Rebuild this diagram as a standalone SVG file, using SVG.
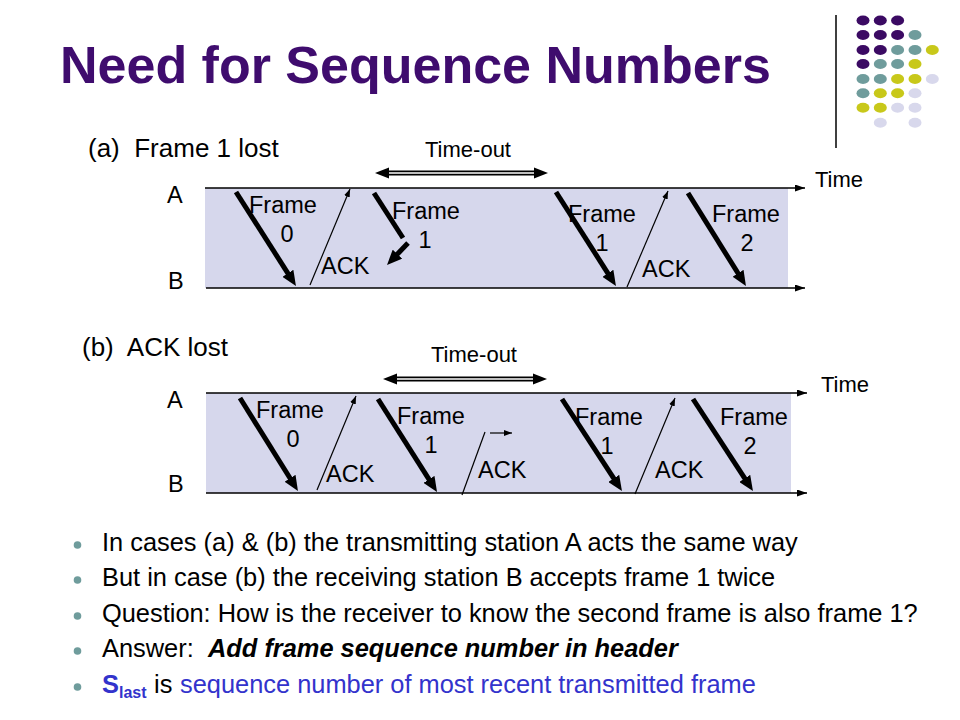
<svg xmlns="http://www.w3.org/2000/svg" width="960" height="720" viewBox="0 0 960 720">
<defs>
<style>
text{font-family:"Liberation Sans",Arial,sans-serif;fill:#000}
.title{font-size:52px;font-weight:bold;fill:#3f0c6e}
.cap{font-size:26px}
.lbl{font-size:23.5px}
.to{font-size:22px}
.bul{font-size:25.4px}
.blue{fill:#3333cc}
.thick{stroke:#000;stroke-width:5;fill:none;marker-end:url(#hThick)}
.thin{stroke:#000;stroke-width:1.2;fill:none;marker-end:url(#hThin)}
.axis{stroke:#000;stroke-width:1.5;fill:none;marker-end:url(#hAxis)}
.band{fill:#d6d7ec}
.p{fill:#3b0a63}.t{fill:#6f9c9c}.y{fill:#c8c81a}.l{fill:#d8d8ec}
</style>
<marker id="hThick" markerUnits="userSpaceOnUse" markerWidth="17" markerHeight="13" refX="3" refY="6.5" orient="auto"><path d="M0,0 L15,6.5 L0,13 z" fill="#000"/></marker>
<marker id="hThin" markerUnits="userSpaceOnUse" markerWidth="9" markerHeight="7" refX="8" refY="3" orient="auto"><path d="M0,0 L8,3 L0,6 z" fill="#000"/></marker>
<marker id="hAxis" markerUnits="userSpaceOnUse" markerWidth="11" markerHeight="8" refX="10" refY="3.5" orient="auto"><path d="M0,0 L10,3.5 L0,7 z" fill="#000"/></marker>
</defs>
<rect width="960" height="720" fill="#fff"/>

<g id="decor">
<line x1="836" y1="15" x2="836" y2="148" stroke="#000" stroke-width="1.5"/>
<ellipse class="p" cx="863" cy="20.5" rx="6.5" ry="5"/><ellipse class="p" cx="880.3" cy="20.5" rx="6.5" ry="5"/><ellipse class="p" cx="897.6" cy="20.5" rx="6.5" ry="5"/>
<ellipse class="p" cx="863" cy="35" rx="6.5" ry="5"/><ellipse class="p" cx="880.3" cy="35" rx="6.5" ry="5"/><ellipse class="p" cx="897.6" cy="35" rx="6.5" ry="5"/><ellipse class="t" cx="915" cy="35" rx="6.5" ry="5"/>
<ellipse class="p" cx="863" cy="50" rx="6.5" ry="5"/><ellipse class="p" cx="880.3" cy="50" rx="6.5" ry="5"/><ellipse class="t" cx="897.6" cy="50" rx="6.5" ry="5"/><ellipse class="t" cx="915" cy="50" rx="6.5" ry="5"/><ellipse class="y" cx="932.3" cy="50" rx="6.5" ry="5"/>
<ellipse class="p" cx="863" cy="64" rx="6.5" ry="5"/><ellipse class="t" cx="880.3" cy="64" rx="6.5" ry="5"/><ellipse class="t" cx="897.6" cy="64" rx="6.5" ry="5"/><ellipse class="y" cx="915" cy="64" rx="6.5" ry="5"/>
<ellipse class="t" cx="863" cy="79" rx="6.5" ry="5"/><ellipse class="t" cx="880.3" cy="79" rx="6.5" ry="5"/><ellipse class="y" cx="897.6" cy="79" rx="6.5" ry="5"/><ellipse class="y" cx="915" cy="79" rx="6.5" ry="5"/><ellipse class="l" cx="932.3" cy="79" rx="6.5" ry="5"/>
<ellipse class="t" cx="863" cy="93.3" rx="6.5" ry="5"/><ellipse class="y" cx="880.3" cy="93.3" rx="6.5" ry="5"/><ellipse class="y" cx="897.6" cy="93.3" rx="6.5" ry="5"/><ellipse class="l" cx="915" cy="93.3" rx="6.5" ry="5"/>
<ellipse class="y" cx="863" cy="107.7" rx="6.5" ry="5"/><ellipse class="y" cx="880.3" cy="107.7" rx="6.5" ry="5"/><ellipse class="l" cx="897.6" cy="107.7" rx="6.5" ry="5"/><ellipse class="l" cx="915" cy="107.7" rx="6.5" ry="5"/>
<ellipse class="l" cx="880.3" cy="122.7" rx="6.5" ry="5"/><ellipse class="l" cx="915" cy="122.7" rx="6.5" ry="5"/>
</g>

<g id="title"><text class="title" x="60" y="83">Need for Sequence Numbers</text></g>

<g id="diagram-a">
<text class="cap" x="88" y="157" xml:space="preserve">(a)  Frame 1 lost</text>
<rect class="band" x="205" y="188" width="583" height="100"/>
<text class="lbl" x="167" y="203">A</text>
<text class="lbl" x="168" y="289">B</text>
<text class="to" x="468" y="157" text-anchor="middle">Time-out</text>
<text class="to" x="815" y="187">Time</text>
<text class="lbl" x="249" y="213">Frame</text><text class="lbl" x="287" y="242" text-anchor="middle">0</text>
<text class="lbl" x="321" y="274">ACK</text>
<text class="lbl" x="392" y="219">Frame</text><text class="lbl" x="425" y="248" text-anchor="middle">1</text>
<text class="lbl" x="568" y="222">Frame</text><text class="lbl" x="602" y="251" text-anchor="middle">1</text>
<text class="lbl" x="642" y="277">ACK</text>
<text class="lbl" x="712" y="222">Frame</text><text class="lbl" x="747" y="251" text-anchor="middle">2</text>
</g>

<g id="diagram-b">
<text class="cap" x="82" y="356" xml:space="preserve">(b)  ACK lost</text>
<rect class="band" x="206" y="393" width="585" height="100"/>
<text class="lbl" x="167" y="408">A</text>
<text class="lbl" x="168" y="492">B</text>
<text class="to" x="474" y="362" text-anchor="middle">Time-out</text>
<text class="to" x="821" y="392">Time</text>
<text class="lbl" x="256" y="418">Frame</text><text class="lbl" x="293" y="447" text-anchor="middle">0</text>
<text class="lbl" x="326" y="482">ACK</text>
<text class="lbl" x="397" y="424">Frame</text><text class="lbl" x="431" y="453" text-anchor="middle">1</text>
<text class="lbl" x="478" y="478">ACK</text>
<text class="lbl" x="575" y="425">Frame</text><text class="lbl" x="607" y="454" text-anchor="middle">1</text>
<text class="lbl" x="655" y="478">ACK</text>
<text class="lbl" x="720" y="425">Frame</text><text class="lbl" x="750" y="454" text-anchor="middle">2</text>
</g>

<g id="connectors">
<line class="axis" x1="205" y1="188" x2="805" y2="188"/>
<line class="axis" x1="206" y1="288" x2="805" y2="288"/>
<line class="axis" x1="206" y1="393" x2="807" y2="393"/>
<line class="axis" x1="206" y1="493" x2="807" y2="493"/>

<line x1="387" y1="173" x2="536" y2="173" stroke="#000" stroke-width="5"/>
<line x1="385" y1="173" x2="538" y2="173" stroke="#fff" stroke-width="1.5"/>
<polygon points="375,173 389,167.5 389,178.5" fill="#000"/>
<polygon points="548,173 534,167.5 534,178.5" fill="#000"/>
<line x1="395" y1="379" x2="535" y2="379" stroke="#000" stroke-width="5"/>
<line x1="393" y1="379" x2="537" y2="379" stroke="#fff" stroke-width="1.5"/>
<polygon points="383,379 397,373.5 397,384.5" fill="#000"/>
<polygon points="547,379 533,373.5 533,384.5" fill="#000"/>

<line class="thick" x1="236" y1="192" x2="289.5" y2="275.8"/>
<line class="thin" x1="310" y1="285" x2="350" y2="189"/>
<line x1="374" y1="193" x2="403" y2="238" stroke="#000" stroke-width="5"/>
<line class="thick" x1="408" y1="243" x2="395.3" y2="256.3"/>
<line class="thick" x1="556" y1="192" x2="609.5" y2="275.8"/>
<line class="thin" x1="627" y1="287" x2="668" y2="191"/>
<line class="thick" x1="688" y1="193" x2="739.6" y2="275.8"/>

<line class="thick" x1="240" y1="398" x2="291.6" y2="480.8"/>
<line class="thin" x1="317" y1="490" x2="356" y2="396"/>
<line class="thick" x1="378" y1="399" x2="430.6" y2="481.9"/>
<line x1="462" y1="495" x2="485" y2="432" stroke="#000" stroke-width="1.2"/>
<line class="thin" x1="490" y1="433" x2="512" y2="433"/>
<line class="thick" x1="562" y1="399" x2="615.4" y2="480.9"/>
<line class="thin" x1="635" y1="494" x2="675" y2="398"/>
<line class="thick" x1="693" y1="399" x2="746.4" y2="480.9"/>
</g>

<g id="bullets">
<circle class="t" cx="77.5" cy="545" r="3.8"/>
<circle class="t" cx="77.5" cy="580" r="3.8"/>
<circle class="t" cx="77.5" cy="616" r="3.8"/>
<circle class="t" cx="77.5" cy="651" r="3.8"/>
<circle class="t" cx="77.5" cy="687" r="3.8"/>
<text class="bul" x="102" y="551">In cases (a) &amp; (b) the transmitting station A acts the same way</text>
<text class="bul" x="102" y="586">But in case (b) the receiving station B accepts frame 1 twice</text>
<text class="bul" x="102" y="622">Question: How is the receiver to know the second frame is also frame 1?</text>
<text class="bul" x="102" y="657">Answer:<tspan x="208" font-weight="bold" font-style="italic">Add frame sequence number in header</tspan></text>
<text class="bul" x="102" y="693"><tspan class="blue" font-weight="bold">S</tspan><tspan class="blue" font-weight="bold" font-size="16" y="698">last</tspan><tspan x="154" y="693">is</tspan><tspan class="blue" x="180">sequence number of most recent transmitted frame</tspan></text>
</g>
</svg>
